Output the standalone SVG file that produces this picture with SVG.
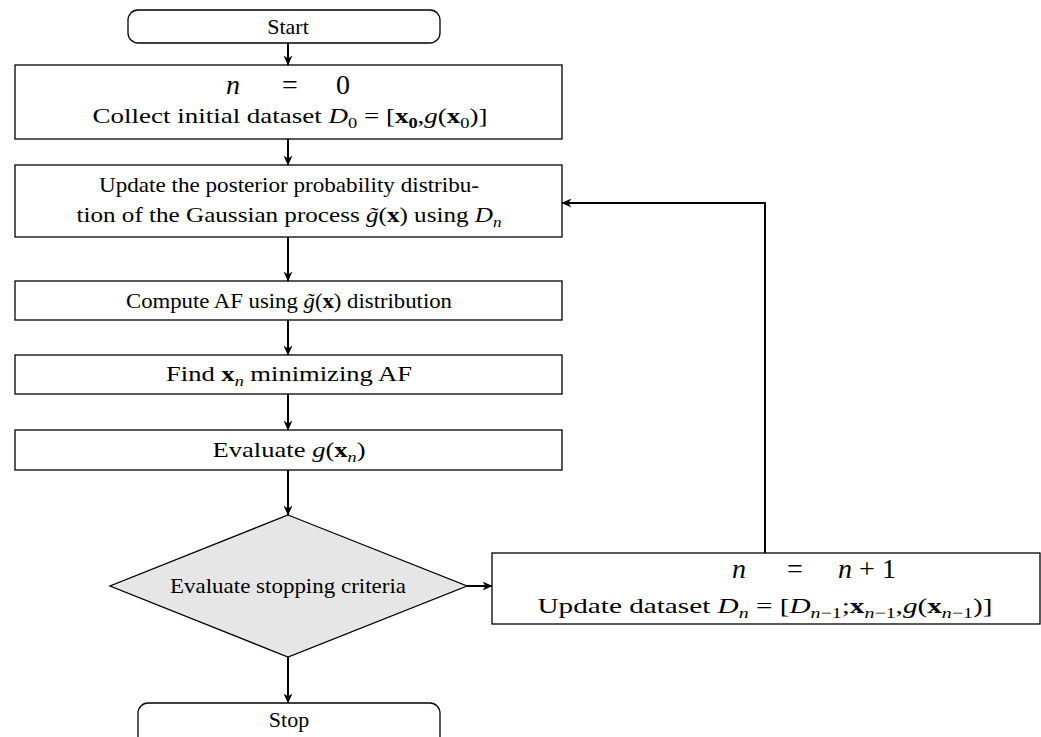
<svg xmlns="http://www.w3.org/2000/svg" width="1041" height="737" viewBox="0 0 1041 737">
<defs>
<marker id="arr" viewBox="0 0 10 10" refX="9.5" refY="5" markerWidth="10" markerHeight="10" markerUnits="userSpaceOnUse" orient="auto">
<path d="M0,0.5 L10,5 L0,9.5 L3,5 z" fill="#000"/>
</marker>
<style>
.box{fill:#fff;stroke:#000;stroke-width:1.3}
.dia{fill:#e6e6e6;stroke:#000;stroke-width:1.3}
.t{font-family:"Liberation Serif","DejaVu Serif",serif;font-size:22px;fill:#000;text-anchor:middle}
.big{font-size:28px}
.i{font-style:italic}
.b{font-weight:bold}
.s{font-size:15px}
.c{fill:none;stroke:#000;stroke-width:2;marker-end:url(#arr)}
</style>
</defs>
<g id="connectors">
<line class="c" x1="288" y1="43" x2="288" y2="65"/>
<line class="c" x1="288" y1="139" x2="288" y2="165"/>
<line class="c" x1="288" y1="237" x2="288" y2="281"/>
<line class="c" x1="288" y1="320" x2="288" y2="355"/>
<line class="c" x1="288" y1="394" x2="288" y2="430"/>
<line class="c" x1="288" y1="470" x2="288" y2="515"/>
<line class="c" x1="467" y1="586" x2="492" y2="586"/>
<line class="c" x1="288" y1="657" x2="288" y2="703"/>
<polyline class="c" points="765,553 765,203 562,203"/>
</g>
<g id="start">
<rect class="box" x="128" y="10" width="312" height="33" rx="10"/>
<text class="t" x="288" y="34">Start</text>
</g>
<g id="init">
<rect class="box" x="15" y="65" width="547" height="74"/>
<text class="t big i" x="233" y="94">n</text>
<text class="t big" x="290" y="94">=</text>
<text class="t big" x="343" y="94">0</text>
<text class="t" x="290" y="123" textLength="395" lengthAdjust="spacingAndGlyphs">Collect initial dataset <tspan class="i">D</tspan><tspan class="s" dy="5">0</tspan><tspan dy="-5">  =  [</tspan><tspan class="b">x</tspan><tspan class="s b" dy="5">0</tspan><tspan dy="-5">,</tspan><tspan class="i">g</tspan>(<tspan class="b">x</tspan><tspan class="s" dy="5">0</tspan><tspan dy="-5">)]</tspan></text>
</g>
<g id="posterior">
<rect class="box" x="15" y="165" width="547" height="72"/>
<text class="t" x="289" y="192" textLength="380" lengthAdjust="spacingAndGlyphs">Update the posterior probability distribu-</text>
<text class="t" x="289" y="222" textLength="425" lengthAdjust="spacingAndGlyphs">tion of the Gaussian process <tspan class="i">g̃</tspan>(<tspan class="b">x</tspan>) using <tspan class="i">D</tspan><tspan class="s i" dy="5">n</tspan></text>
</g>
<g id="computeaf">
<rect class="box" x="15" y="281" width="547" height="39"/>
<text class="t" x="289" y="308" textLength="326" lengthAdjust="spacingAndGlyphs">Compute AF using <tspan class="i">g̃</tspan>(<tspan class="b">x</tspan>) distribution</text>
</g>
<g id="find">
<rect class="box" x="15" y="355" width="547" height="39"/>
<text class="t" x="289" y="381" textLength="246" lengthAdjust="spacingAndGlyphs">Find  <tspan class="b">x</tspan><tspan class="s i" dy="5">n</tspan><tspan dy="-5">  minimizing  AF</tspan></text>
</g>
<g id="evaluate">
<rect class="box" x="15" y="430" width="547" height="40"/>
<text class="t" x="289" y="457" textLength="153" lengthAdjust="spacingAndGlyphs">Evaluate  <tspan class="i">g</tspan>(<tspan class="b">x</tspan><tspan class="s i" dy="5">n</tspan><tspan dy="-5">)</tspan></text>
</g>
<g id="decision">
<polygon class="dia" points="288,515 467,586 288,657 110,586"/>
<text class="t" x="288" y="593" textLength="236" lengthAdjust="spacingAndGlyphs">Evaluate stopping criteria</text>
</g>
<g id="update">
<rect class="box" x="492" y="553" width="548" height="71"/>
<text class="t big i" x="739" y="578">n</text>
<text class="t big" x="795" y="578">=</text>
<text class="t big" x="867" y="578"><tspan class="i">n</tspan> + 1</text>
<text class="t" x="765" y="613" textLength="455" lengthAdjust="spacingAndGlyphs">Update dataset <tspan class="i">D</tspan><tspan class="s i" dy="5">n</tspan><tspan dy="-5">  =  [</tspan><tspan class="i">D</tspan><tspan class="s" dy="5"><tspan class="i">n</tspan>−1</tspan><tspan dy="-5">;</tspan><tspan class="b">x</tspan><tspan class="s" dy="5"><tspan class="i">n</tspan>−1</tspan><tspan dy="-5">,</tspan><tspan class="i">g</tspan>(<tspan class="b">x</tspan><tspan class="s" dy="5"><tspan class="i">n</tspan>−1</tspan><tspan dy="-5">)]</tspan></text>
</g>
<g id="stop">
<rect class="box" x="138" y="703" width="302" height="44" rx="10"/>
<text class="t" x="289" y="727">Stop</text>
</g>
</svg>
